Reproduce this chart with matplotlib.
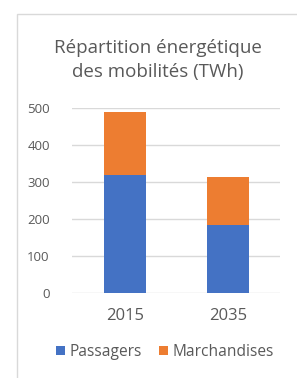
import numpy as np
import matplotlib.pyplot as plt
from matplotlib.patches import Rectangle

years = ['2015', '2035']
passagers = [319, 184]
marchandises = [172, 129]

blue = '#4472C4'
orange = '#ED7D31'
grey = '#595959'

plt.rcParams['font.family'] = ['Open Sans', 'DejaVu Sans']

fig = plt.figure(figsize=(2.97, 3.78), dpi=100)

# chart frame (cropped on right and bottom)
fig.patches.append(Rectangle((16.5 / 297, -0.1), 1.2, 1.1 - 14 / 378,
                             transform=fig.transFigure, fill=False,
                             edgecolor='#D9D9D9', lw=1))

ax = fig.add_axes([72 / 297, 1 - 292.7 / 378, 208 / 297, (292.7 - 108.3) / 378])

x = np.arange(len(years))
width = 0.41
ax.bar(x, passagers, width, color=blue, label='Passagers', zorder=3)
ax.bar(x, marchandises, width, bottom=passagers, color=orange,
       label='Marchandises', zorder=3)

ax.set_xlim(-0.515, 1.505)
ax.set_ylim(0, 500)
ax.set_yticks(range(0, 501, 100))
ax.set_xticks(x)
ax.set_xticklabels(years)
ax.yaxis.grid(True, color='#D9D9D9', lw=1, zorder=0)
for s in ax.spines.values():
    s.set_visible(False)
ax.tick_params(length=0, colors=grey)
ax.tick_params(axis='y', pad=16, labelsize=9.5)
ax.tick_params(axis='x', pad=11, labelsize=12)

fig.text(158 / 297, 1 - 60 / 378, 'Répartition énergétique\ndes mobilités (TWh)',
         ha='center', va='center', fontsize=13.5, color=grey, linespacing=1.4)

fig.legend(loc='center', bbox_to_anchor=(165 / 297, 1 - 352 / 378), ncol=2,
           frameon=False, fontsize=11.2, labelcolor=grey, handlelength=0.55,
           handleheight=0.55, handletextpad=0.3, columnspacing=1.1)

fig.savefig('out.png', dpi=100)
